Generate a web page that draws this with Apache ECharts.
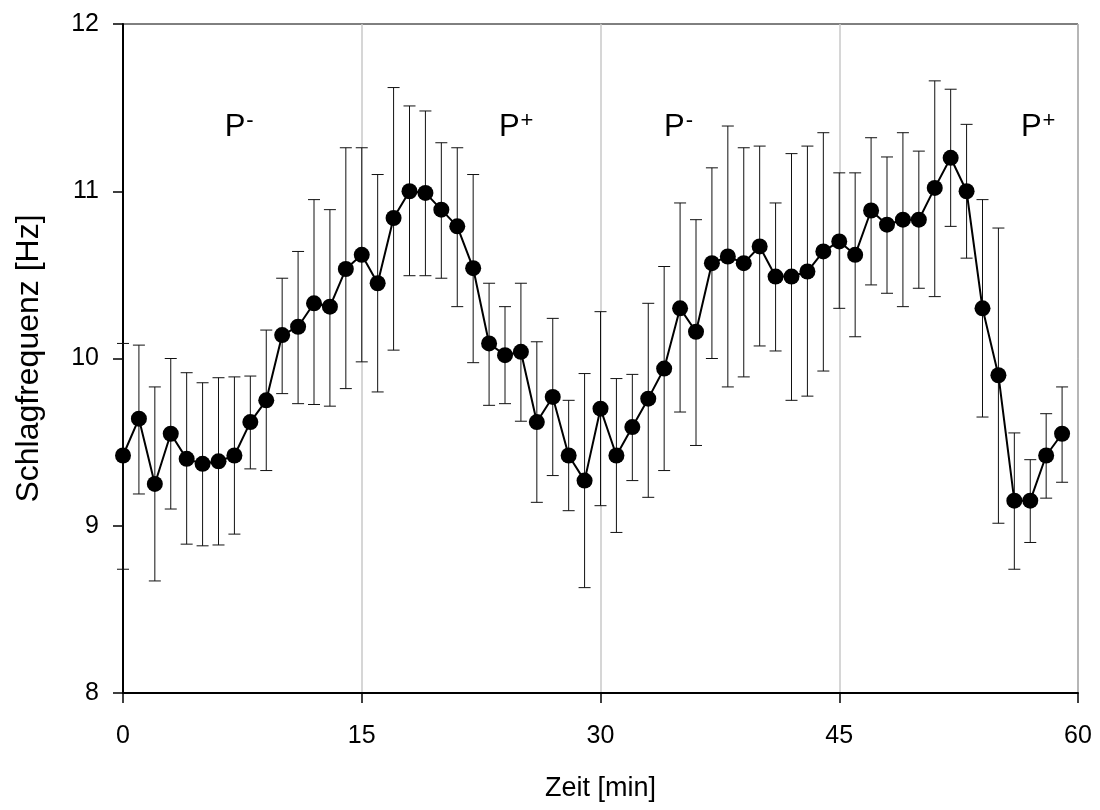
<!DOCTYPE html>
<html>
<head>
<meta charset="utf-8">
<script src="https://cdn.jsdelivr.net/npm/echarts@6/dist/echarts.min.js"></script>
<style>
html,body{margin:0;padding:0;background:#fff;}
#chart{width:1100px;height:810px;}
</style>
</head>
<body>
<div id="chart"></div>
<script>
// Time [min]
var minutes = [0,1,2,3,4,5,6,7,8,9,10,11,12,13,14,15,16,17,18,19,20,21,22,23,24,25,26,27,28,29,30,31,32,33,34,35,36,37,38,39,40,41,42,43,44,45,46,47,48,49,50,51,52,53,54,55,56,57,58,59];
// Mean beat frequency [Hz]
var freq = [9.42,9.64,9.25,9.55,9.40,9.37,9.385,9.42,9.62,9.75,
            10.14,10.19,10.33,10.31,10.535,10.62,10.45,10.84,11.00,10.99,
            10.89,10.79,10.54,10.09,10.02,10.04,9.62,9.77,9.42,9.27,
            9.70,9.42,9.59,9.76,9.94,10.30,10.16,10.57,10.61,10.57,
            10.67,10.49,10.49,10.52,10.64,10.70,10.62,10.885,10.80,10.83,
            10.83,11.02,11.20,11.00,10.30,9.90,9.15,9.15,9.42,9.55];
// Error bar upper ends
var upper = [10.09,10.08,9.83,10.00,9.915,9.855,9.885,9.89,9.895,10.17,
             10.48,10.64,10.95,10.89,11.26,11.26,11.10,11.62,11.51,11.48,
             11.29,11.26,11.10,10.45,10.31,10.45,10.10,10.24,9.75,9.91,
             10.28,9.88,9.905,10.33,10.55,10.93,10.83,11.14,11.39,11.26,
             11.27,10.93,11.225,11.27,11.35,11.11,11.11,11.32,11.205,11.35,
             11.24,11.66,11.61,11.40,10.95,10.78,9.555,9.395,9.67,9.83];
// Error bar lower ends
var lower = [8.74,9.19,8.67,9.10,8.89,8.88,8.885,8.95,9.34,9.33,
             9.79,9.73,9.725,9.715,9.82,9.98,9.80,10.05,10.495,10.495,
             10.48,10.31,9.975,9.72,9.73,9.625,9.14,9.30,9.09,8.63,
             9.12,8.96,9.27,9.17,9.33,9.68,9.48,10.00,9.83,9.89,
             10.075,10.045,9.75,9.775,9.925,10.30,10.13,10.44,10.39,10.31,
             10.42,10.37,10.79,10.60,9.65,9.015,8.74,8.90,9.165,9.26];
// Axis ticks
var xTicks = [0,15,30,45,60];
var yTicks = [8,9,10,11,12];
// Phase labels (text, superscript, x in min, y in Hz)
var phaseText = ['P','P','P','P'];
var phaseSup = ['-','+','-','+'];
var phaseX = [7.3,24.7,34.9,57.5];
var phaseY = [11.38,11.38,11.38,11.38];

var FONT = '"Liberation Sans", Arial, sans-serif';

var lineData = minutes.map(function(m,i){ return [m, freq[i]]; });
var errData = minutes.map(function(m,i){ return [m, lower[i], upper[i]]; });
var labelData = phaseX.map(function(x,i){ return {value:[x, phaseY[i]], txt: phaseText[i], sup: phaseSup[i]}; });

var chart = echarts.init(document.getElementById('chart'), null, {renderer:'canvas'});
chart.setOption({
  animation: false,
  backgroundColor: '#fff',
  grid: {left:123, right:22, top:24, bottom:117, show:true, borderColor:'#000', borderWidth:1, backgroundColor:'transparent'},
  xAxis: {
    type:'value', min:xTicks[0], max:xTicks[xTicks.length-1], interval:15,
    name:'Zeit [min]', nameLocation:'middle', nameGap:82,
    nameTextStyle:{fontFamily:FONT, fontSize:27, color:'#000'},
    axisLine:{show:true, onZero:false, lineStyle:{color:'#000', width:2}},
    axisTick:{show:true, inside:false, length:10, lineStyle:{color:'#000', width:1.5}},
    axisLabel:{fontFamily:FONT, fontSize:25, color:'#000', margin:31},
    splitLine:{show:true, lineStyle:{color:'#c8c8c8', width:1.5}}
  },
  yAxis: {
    type:'value', min:yTicks[0], max:yTicks[yTicks.length-1], interval:1,
    name:'Schlagfrequenz [Hz]', nameLocation:'middle', nameGap:78,
    nameTextStyle:{fontFamily:FONT, fontSize:32, color:'#000'},
    axisLine:{show:true, onZero:false, lineStyle:{color:'#000', width:2}},
    axisTick:{show:true, inside:false, length:10, lineStyle:{color:'#000', width:1.5}},
    axisLabel:{fontFamily:FONT, fontSize:25, color:'#000', margin:24},
    splitLine:{show:false}
  },
  series: [
    {
      type:'custom', z:1, clip:false,
      data: errData,
      renderItem: function(params, api){
        var x = api.value(0);
        var lo = api.coord([x, api.value(1)]);
        var hi = api.coord([x, api.value(2)]);
        var hw = 6;
        var st = {stroke:'#111', lineWidth:1};
        return {type:'group', children:[
          {type:'line', shape:{x1:lo[0], y1:lo[1], x2:hi[0], y2:hi[1]}, style:st},
          {type:'line', shape:{x1:lo[0]-hw, y1:lo[1], x2:lo[0]+hw, y2:lo[1]}, style:st},
          {type:'line', shape:{x1:hi[0]-hw, y1:hi[1], x2:hi[0]+hw, y2:hi[1]}, style:st}
        ]};
      }
    },
    {
      type:'line', z:3, data: lineData,
      symbol:'circle', symbolSize:16,
      itemStyle:{color:'#000'},
      lineStyle:{color:'#000', width:2}
    },
    {
      type:'scatter', z:4, symbolSize:0, silent:true,
      itemStyle:{opacity:1, color:'#000'},
      data: labelData,
      label:{
        show:true, position:'inside', opacity:1, color:'#000',
        formatter: function(p){ return '{p|' + p.data.txt + '}{s|' + p.data.sup + '}'; },
        rich:{
          p:{fontFamily:FONT, fontSize:31, color:'#000', lineHeight:36, opacity:1},
          s:{fontFamily:FONT, fontSize:22, color:'#000', verticalAlign:'top', lineHeight:36, padding:[0,0,12,1], opacity:1}
        }
      }
    }
  ]
});
</script>
</body>
</html>
